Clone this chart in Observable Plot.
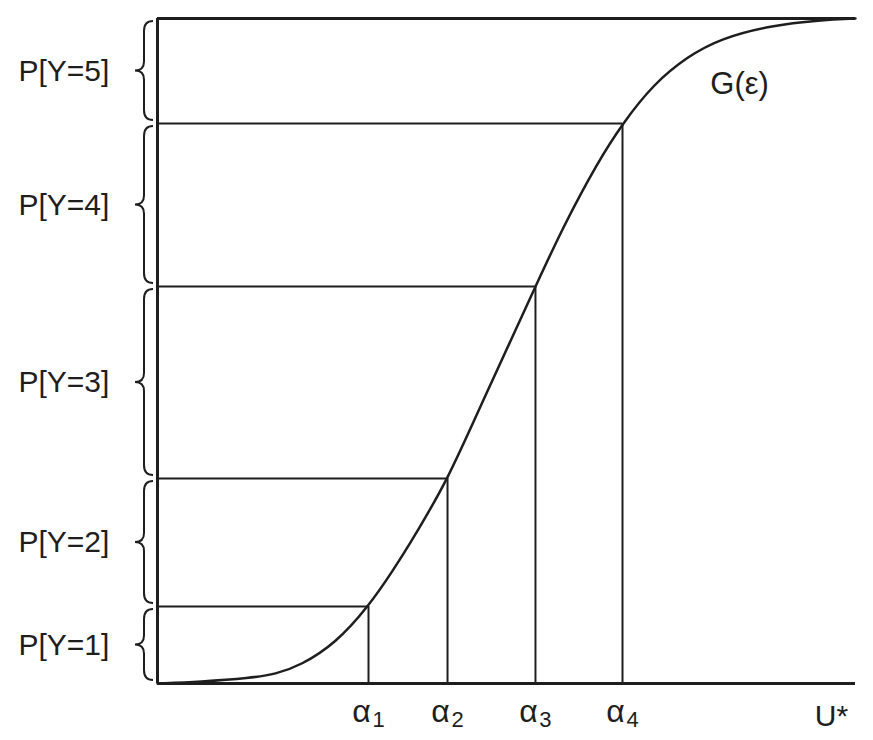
<!DOCTYPE html>
<html>
<head>
<meta charset="utf-8">
<script src="https://cdn.jsdelivr.net/npm/d3@7"></script>
<script src="https://cdn.jsdelivr.net/npm/@observablehq/plot@0.6"></script>
<style>
  html, body { margin: 0; padding: 0; background: #fff; }
  #chart svg { display: block; }
</style>
</head>
<body>
<div id="chart"></div>
<script>
// Category labels (left braces)
const categories = ["P[Y=1]", "P[Y=2]", "P[Y=3]", "P[Y=4]", "P[Y=5]"];
// Cumulative probabilities at thresholds
const cumP = [0.1158, 0.3083, 0.5970, 0.8421];
// Threshold positions on U* axis
const alphaX = [0.3023, 0.4155, 0.5415, 0.6662];
const alphaSub = ["1", "2", "3", "4"];
// Points read along the G(ε) curve
const curveX = [0, 0.0616, 0.1332, 0.1691, 0.2049, 0.2550, 0.3023, 0.3381, 0.3625, 0.3868, 0.4155, 0.4484, 0.4771, 0.5057, 0.5415, 0.5817, 0.6304, 0.6662, 0.7106, 0.7593, 0.8066, 0.8782, 0.9499, 1];
const curveY = [0, 0.0027, 0.0083, 0.0140, 0.0271, 0.0602, 0.1158, 0.1711, 0.2117, 0.2549, 0.3083, 0.3835, 0.4496, 0.5150, 0.5970, 0.6881, 0.7835, 0.8421, 0.9015, 0.9429, 0.9699, 0.9895, 0.9977, 1];

const ink = "#1e1e1e";
const font = "Liberation Sans, Arial, sans-serif";

const curve = curveX.map((x, i) => ({x, y: curveY[i]}));
const thresholds = alphaX.map((x, i) => ({x, y: cumP[i], sub: alphaSub[i]}));
const bounds = [0, ...cumP, 1];
const intervals = categories.map((c, i) => ({label: c, y0: bounds[i], y1: bounds[i + 1], ym: (bounds[i] + bounds[i + 1]) / 2}));

function braces(index, scales) {
  const g = d3.create("svg:g");
  const x0 = scales.x(0);
  intervals.forEach(d => {
    const yt = scales.y(d.y1) + 3, yb = scales.y(d.y0) - 3, ym = (yt + yb) / 2;
    const e = x0 - 4, s = x0 - 13, t = x0 - 22;
    const p = `M${e},${yt} Q${s},${yt} ${s},${yt + 10} L${s},${ym - 9} Q${s},${ym} ${t},${ym} Q${s},${ym} ${s},${ym + 9} L${s},${yb - 10} Q${s},${yb} ${e},${yb}`;
    g.append("path").attr("d", p).attr("fill", "none").attr("stroke", ink).attr("stroke-width", 2);
  });
  return g.node();
}

const chart = Plot.plot({
  width: 873,
  height: 740,
  marginLeft: 157,
  marginRight: 18,
  marginTop: 18,
  marginBottom: 57,
  x: {domain: [0, 1], axis: null},
  y: {domain: [0, 1], axis: null},
  style: {background: "#fff", fontFamily: font},
  marks: [
    // horizontal threshold lines
    Plot.ruleY(thresholds, {y: "y", x1: 0, x2: "x", stroke: ink, strokeWidth: 2.2}),
    // vertical threshold lines
    Plot.ruleX(thresholds, {x: "x", y1: 0, y2: "y", stroke: ink, strokeWidth: 2}),
    // top line
    Plot.ruleY([1], {x1: 0, x2: 1, stroke: ink, strokeWidth: 3}),
    // axes
    Plot.ruleX([0], {y1: 0, y2: 1, stroke: ink, strokeWidth: 3}),
    Plot.ruleY([0], {x1: 0, x2: 1, stroke: ink, strokeWidth: 3}),
    // curve
    Plot.line(curve, {x: "x", y: "y", curve: "basis", stroke: ink, strokeWidth: 2.5}),
    // braces
    braces,
    // category labels
    Plot.text(intervals, {x: 0, y: "ym", text: "label", dx: -139, textAnchor: "start", fontSize: 30, fill: ink}),
    // alpha labels
    Plot.text(thresholds, {x: "x", y: 0, text: () => "α", dx: -7, dy: 28, fontSize: 32, fill: ink}),
    Plot.text(thresholds, {x: "x", y: 0, text: "sub", dx: 10, dy: 36, fontSize: 22, fill: ink}),
    // U*
    Plot.text(["U*"], {x: 1, y: 0, text: d => d, dx: -24, dy: 33, fontSize: 30, fill: ink}),
    // G(ε)
    Plot.text(["G(ε)"], {x: 0.834, y: 0.902, text: d => d, fontSize: 31, fill: ink})
  ]
});
document.getElementById("chart").append(chart);
</script>
</body>
</html>
